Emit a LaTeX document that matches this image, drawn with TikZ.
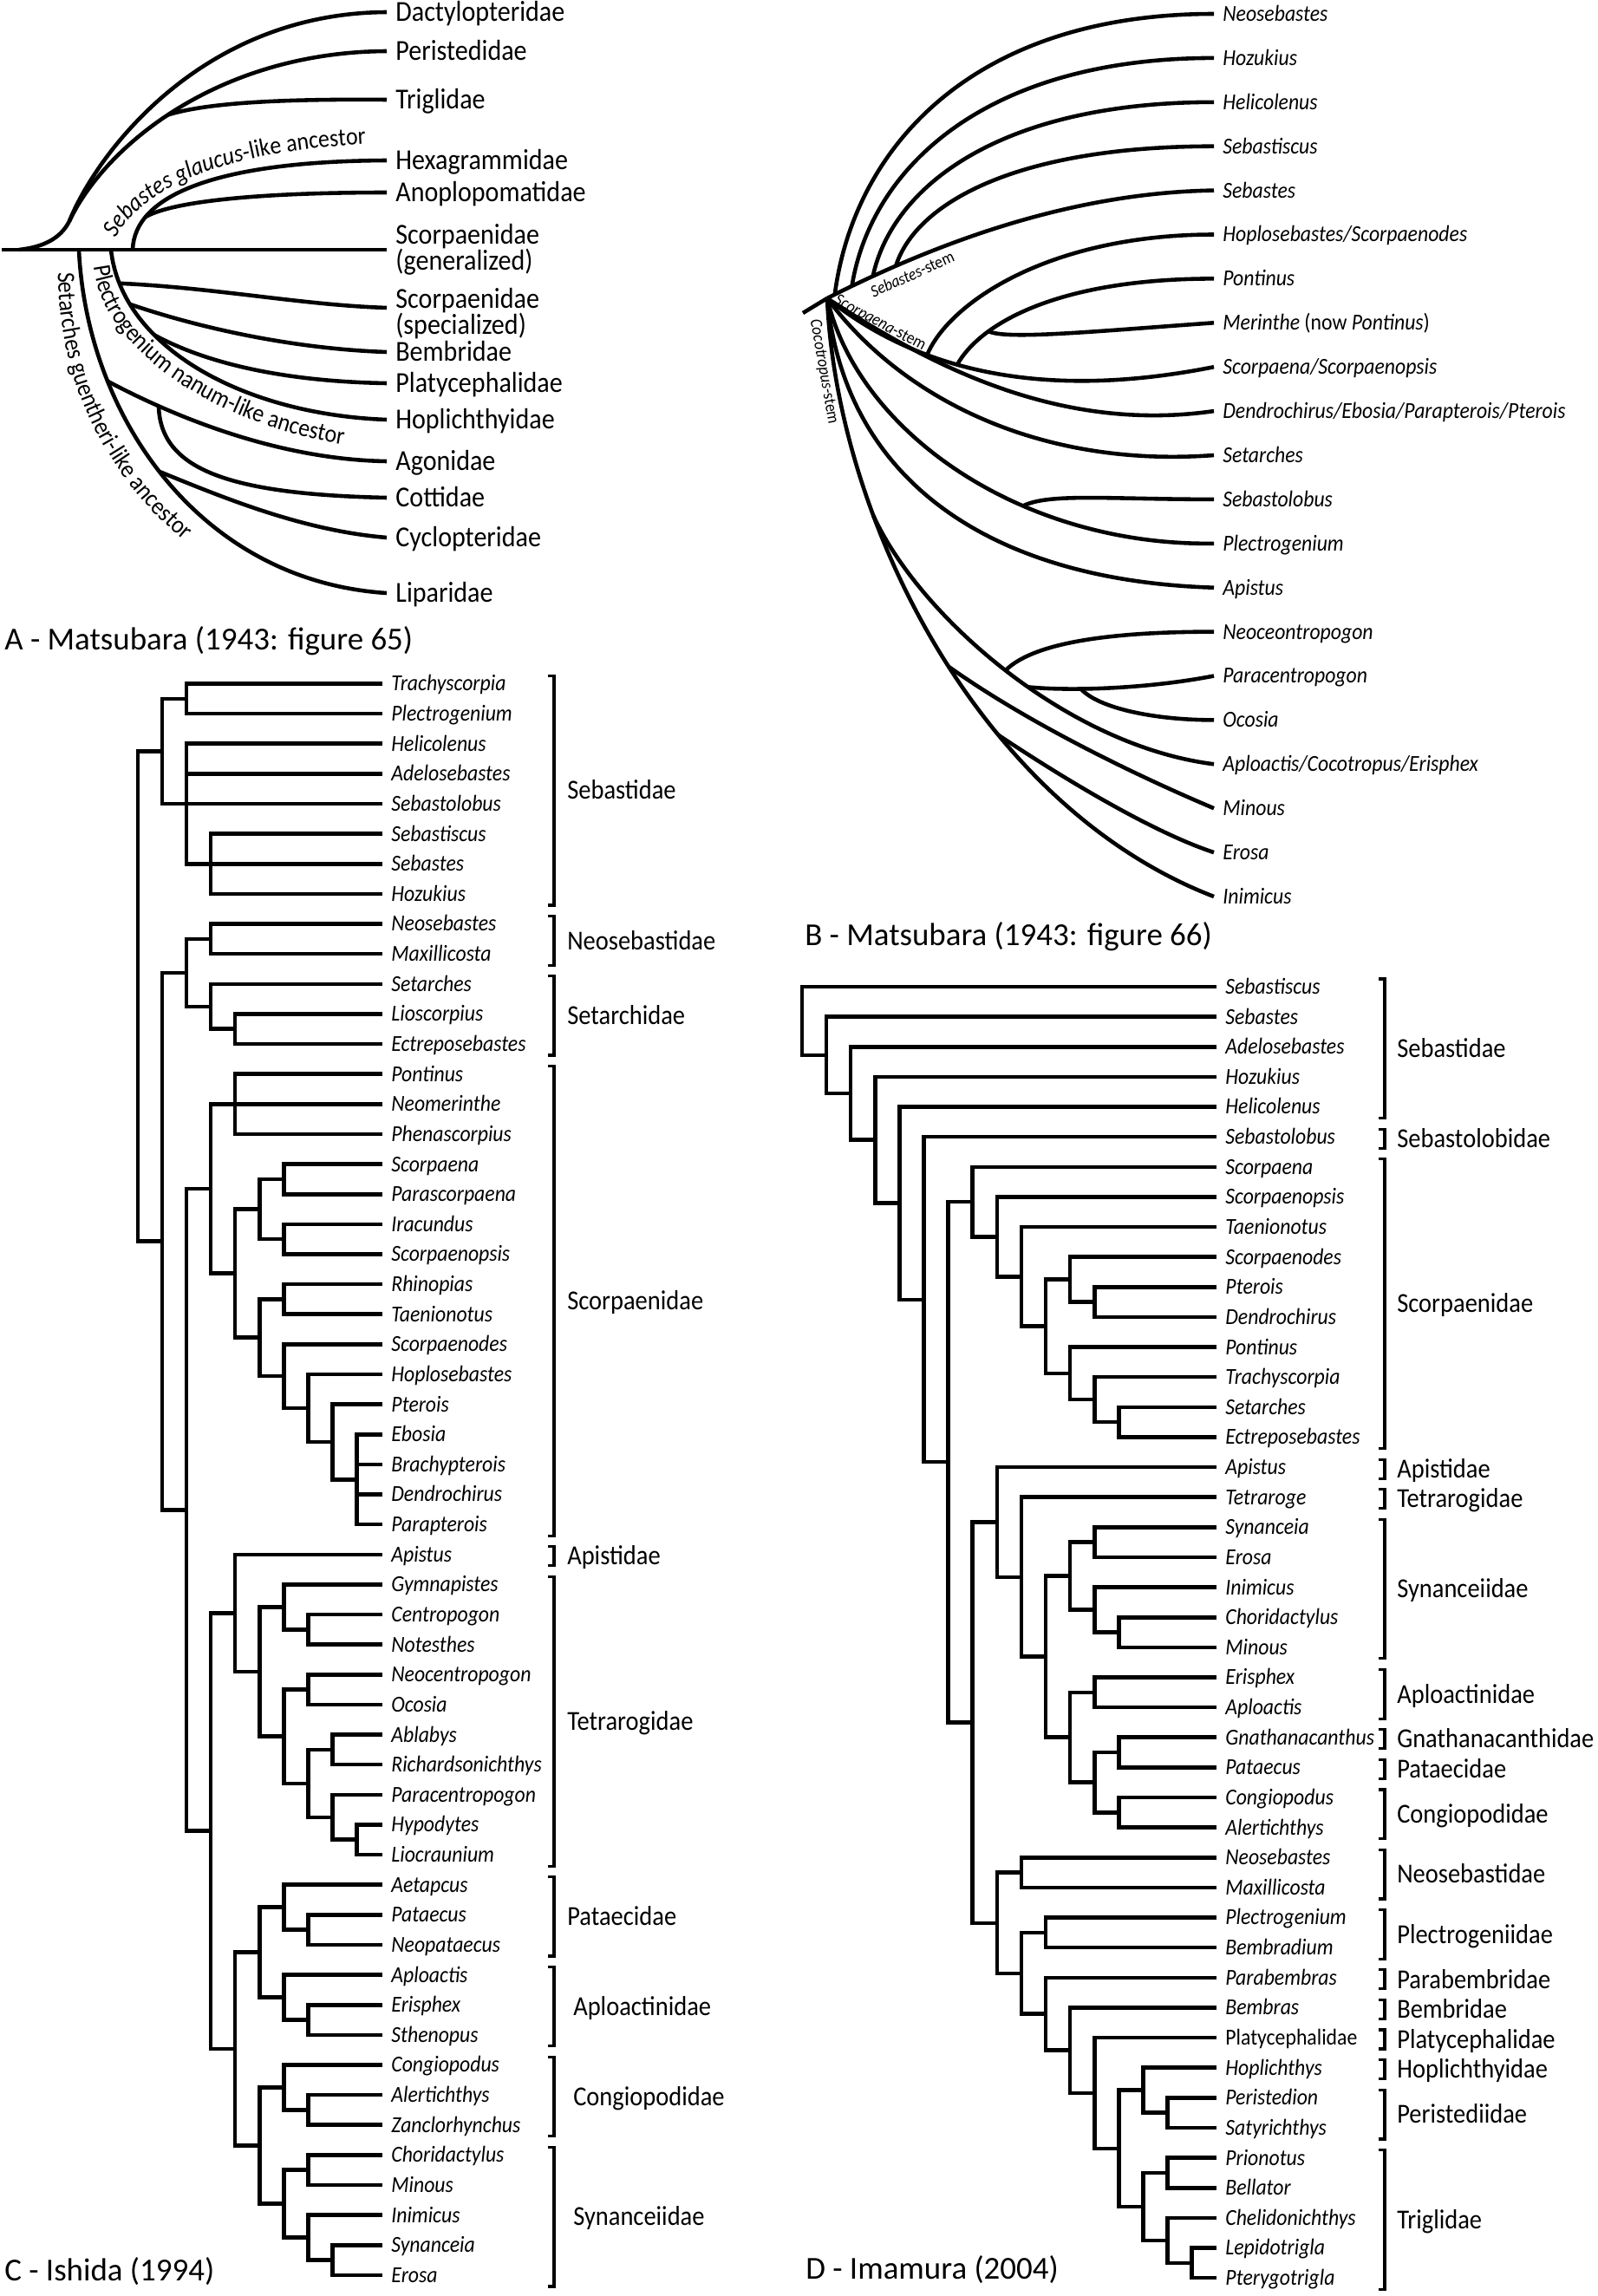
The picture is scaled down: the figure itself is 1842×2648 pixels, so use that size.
\documentclass[tikz,border=0pt]{standalone}
\usepackage{fontspec}
\setmainfont{Carlito}[FakeStretch=0.9]
\newfontfamily\plainfamily{Carlito}
\usetikzlibrary{decorations.text}
\newcommand{\taxonfont}{\fontsize{7.5}{9}\selectfont\itshape}
\newcommand{\famfont}{\fontsize{9}{10}\selectfont}
\newcommand{\groupfont}{\fontsize{9.5}{8.5}\selectfont}
\newcommand{\stemfont}{\fontsize{5.6}{7}\selectfont}
\newcommand{\ancfont}{\fontsize{8.2}{9}\selectfont}
\newcommand{\paneltitlefont}{\plainfamily\fontsize{10.5}{12}\selectfont}
\newcommand{\Cx}[1]{159+28.05*#1}
\newcommand{\Cy}[1]{788.5+34.63*#1}
\newcommand{\Dx}[1]{925+28.1*#1}
\newcommand{\Dy}[1]{1138+34.63*#1}
\newcommand{\By}[1]{16+50.9*#1}
\tikzset{
    bracket/.style={line width=0.9pt},
    taxon/.style={anchor=west, inner xsep=2.3pt, inner ysep=0pt, text height=4.8pt, text depth=0pt, font=\taxonfont},
    famlab/.style={anchor=west, inner sep=0pt, text height=5.8pt, text depth=0pt, font=\famfont},
    grouplab/.style={anchor=west, inner xsep=2.3pt, inner ysep=0pt, text height=6.1pt, text depth=0pt, font=\groupfont},
    grouplabtwo/.style={anchor=west, inner xsep=2.3pt, inner ysep=0pt, align=left, font=\groupfont},
    stemlab/.style={inner sep=0pt, font=\stemfont},
    paneltitle/.style={anchor=west, inner sep=0pt, text height=6.8pt, text depth=0pt, font=\paneltitlefont}
}
\newcommand{\famC}[5]{%
    \draw[bracket] (632,{\Cy{#1}-9}) -- (639,{\Cy{#1}-9}) -- (639,{\Cy{#2}+13}) -- (632,{\Cy{#2}+13});
    \node (#3) [famlab] at (#4,{(\Cy{#1}+\Cy{#2})/2+2}) {#5};}
\newcommand{\famD}[4]{%
    \draw[bracket] (1590,{\Dy{#1}-9}) -- (1597,{\Dy{#1}-9}) -- (1597,{\Dy{#2}+13}) -- (1590,{\Dy{#2}+13});
    \node (#3) [famlab] at (1609,{(\Dy{#1}+\Dy{#2})/2+2}) {#4};}
\begin{document}
\begin{tikzpicture}[x=0.01cm, y=-0.01cm, line width=1.3pt]
    \useasboundingbox (0,0) rectangle (1842,2648);

    \node (a0) [grouplab] at (446,14) {Dactylopteridae};
    \node (a1) [grouplab] at (446,59) {Peristedidae};
    \node (a2) [grouplab] at (446,115) {Triglidae};
    \node (a3) [grouplab] at (446,185) {Hexagrammidae};
    \node (a4) [grouplab] at (446,222) {Anoplopomatidae};
    \node (a5) [grouplabtwo] at (446,288) {Scorpaenidae\\(generalized)};
    \node (a6) [grouplabtwo] at (446,362) {Scorpaenidae\\(specialized)};
    \node (a7) [grouplab] at (446,406) {Bembridae};
    \node (a8) [grouplab] at (446,442) {Platycephalidae};
    \node (a9) [grouplab] at (446,484) {Hoplichthyidae};
    \node (a10) [grouplab] at (446,532) {Agonidae};
    \node (a11) [grouplab] at (446,574) {Cottidae};
    \node (a12) [grouplab] at (446,620) {Cyclopteridae};
    \node (a13) [grouplab] at (446,684) {Liparidae};

    \coordinate (aR) at (2,288);
    \coordinate (aD0) at (22,288);
    \coordinate (aD1) at (80,255);
    \coordinate (aS) at (91,288);
    \coordinate (aP) at (128,288);
    \coordinate (aG) at (153,288);

    \draw (aR) -- (a5.west);
    \draw (aD0) .. controls (50,285) and (70,275) .. (aD1) .. controls (110,180) and (230,15) .. (a0.west);
    \draw (aD1) .. controls (120,170) and (250,60) .. (a1.west) coordinate[pos=0.47] (aT);
    \draw (aT) .. controls (240,118) and (330,114) .. (a2.west);
    \draw (aG) .. controls (155,225) and (250,186) .. (a3.west) coordinate[pos=0.22] (aA);
    \draw (aA) .. controls (200,232) and (300,222) .. (a4.west);
    \draw (aP) .. controls (140,400) and (280,478) .. (a9.west) coordinate[pos=0.12] (aP1) coordinate[pos=0.2] (aP2) coordinate[pos=0.33] (aP3);
    \draw (aP1) .. controls (250,332) and (350,352) .. ([yshift=2pt]a6.west);
    \draw (aP2) .. controls (220,375) and (330,402) .. (a7.west);
    \draw (aP3) .. controls (240,420) and (330,440) .. (a8.west);
    \draw (aS) .. controls (100,480) and (230,670) .. (a13.west) coordinate[pos=0.27] (aS1) coordinate[pos=0.48] (aS2);
    \draw (aS1) .. controls (200,480) and (320,530) .. (a10.west) coordinate[pos=0.23] (aC);
    \draw (aC) .. controls (185,540) and (260,570) .. (a11.west);
    \draw (aS2) .. controls (260,575) and (350,612) .. (a12.west);

    \path[decorate, decoration={text along path, text={|\ancfont\itshape|Sebastes glaucus|\ancfont|-like ancestor}}] (134,275) .. controls (168,210) and (272,174) .. (425,166);
    \path[decorate, decoration={text along path, text={|\ancfont|Plectrogenium nanum-like ancestor}}] (108,307) .. controls (119,410) and (270,505) .. (440,518);
    \path[decorate, decoration={text along path, text={|\ancfont|Setarches guentheri-like ancestor}}] (67,314) .. controls (66,485) and (180,680) .. (440,720);

    \node (tA) [paneltitle] at (3,738) {A - Matsubara (1943: figure 65)};

    \node (b0) [taxon] at (1400,\By{0}) {Neosebastes};
    \node (b1) [taxon] at (1400,\By{1}) {Hozukius};
    \node (b2) [taxon] at (1400,\By{2}) {Helicolenus};
    \node (b3) [taxon] at (1400,\By{3}) {Sebastiscus};
    \node (b4) [taxon] at (1400,\By{4}) {Sebastes};
    \node (b5) [taxon] at (1400,\By{5}) {Hoplosebastes/Scorpaenodes};
    \node (b6) [taxon] at (1400,\By{6}) {Pontinus};
    \node (b7) [taxon] at (1400,\By{7}) {Merinthe {\upshape(now} Pontinus{\upshape)}};
    \node (b8) [taxon] at (1400,\By{8}) {Scorpaena/Scorpaenopsis};
    \node (b9) [taxon] at (1400,\By{9}) {Dendrochirus/Ebosia/Parapterois/Pterois};
    \node (b10) [taxon] at (1400,\By{10}) {Setarches};
    \node (b11) [taxon] at (1400,\By{11}) {Sebastolobus};
    \node (b12) [taxon] at (1400,\By{12}) {Plectrogenium};
    \node (b13) [taxon] at (1400,\By{13}) {Apistus};
    \node (b14) [taxon] at (1400,\By{14}) {Neoceontropogon};
    \node (b15) [taxon] at (1400,\By{15}) {Paracentropogon};
    \node (b16) [taxon] at (1400,\By{16}) {Ocosia};
    \node (b17) [taxon] at (1400,\By{17}) {Aploactis/Cocotropus/Erisphex};
    \node (b18) [taxon] at (1400,\By{18}) {Minous};
    \node (b19) [taxon] at (1400,\By{19}) {Erosa};
    \node (b20) [taxon] at (1400,\By{20}) {Inimicus};

    \coordinate (bR0) at (926,361);
    \coordinate (bR) at (954,344);
    \draw (bR0) -- (bR);
    \draw (bR) .. controls (1100,270) and (1250,222) .. (b4.west) coordinate[pos=0.02] (bk0) coordinate[pos=0.065] (bk1) coordinate[pos=0.12] (bk2) coordinate[pos=0.18] (bk3);
    \draw (bk0) .. controls +(22,-168) and +(-280,0) .. (b0.west);
    \draw (bk1) .. controls +(22,-136) and +(-264,0) .. (b1.west);
    \draw (bk2) .. controls +(22,-102) and +(-249,0) .. (b2.west);
    \draw (bk3) .. controls +(22,-70) and +(-233,0) .. (b3.west);
    \draw (bR) .. controls (1080,445) and (1240,455) .. (b8.west) coordinate[pos=0.285] (bk5) coordinate[pos=0.365] (bk6);
    \draw (bk5) .. controls +(25,-60) and +(-190,0) .. (b5.west);
    \draw (bk6) .. controls +(25,-45) and +(-185,0) .. (b6.west) coordinate[pos=0.28] (bk7);
    \draw (bk7) .. controls +(20,10) and +(-140,10) .. (b7.west);
    \draw (bR) .. controls (1070,420) and (1220,500) .. (b9.west);
    \draw (bR) .. controls (1040,460) and (1200,540) .. (b10.west);
    \draw (bR) .. controls (990,500) and (1180,630) .. (b12.west) coordinate[pos=0.64] (bk11);
    \draw (bk11) .. controls +(30,-15) and +(-120,0) .. (b11.west);
    \draw (bR) .. controls (975,560) and (1150,670) .. (b13.west);
    \draw (bR) .. controls (965,600) and (1130,930) .. (b20.west) coordinate[pos=0.31] (bk17) coordinate[pos=0.53] (bk18) coordinate[pos=0.64] (bk19);
    \draw (bk17) .. controls (1060,710) and (1230,860) .. (b17.west) coordinate[pos=0.5] (bk14) coordinate[pos=0.56] (bk15);
    \draw (bk14) .. controls +(25,-25) and +(-150,0) .. (b14.west);
    \draw (bk15) .. controls (1230,797) and (1320,795) .. (b15.west) coordinate[pos=0.35] (bk16);
    \draw (bk16) .. controls +(20,22) and +(-70,0) .. (b16.west);
    \draw (bk18) .. controls (1180,830) and (1300,890) .. (b18.west);
    \draw (bk19) .. controls (1230,900) and (1330,960) .. (b19.west);

    \node (lsb) [stemlab, rotate=24] at (1052,316) {\textit{Sebastes}-stem};
    \node (lsc) [stemlab, rotate=-28] at (1015,373) {\textit{Scorpaena}-stem};
    \node (lco) [stemlab, rotate=-80] at (950,429) {\textit{Cocotropus}-stem};

    \node (tB) [paneltitle] at (926,1079) {B - Matsubara (1943: figure 66)};

    \node (c0) [taxon] at (441,\Cy{0}) {Trachyscorpia};
    \node (c1) [taxon] at (441,\Cy{1}) {Plectrogenium};
    \node (c2) [taxon] at (441,\Cy{2}) {Helicolenus};
    \node (c3) [taxon] at (441,\Cy{3}) {Adelosebastes};
    \node (c4) [taxon] at (441,\Cy{4}) {Sebastolobus};
    \node (c5) [taxon] at (441,\Cy{5}) {Sebastiscus};
    \node (c6) [taxon] at (441,\Cy{6}) {Sebastes};
    \node (c7) [taxon] at (441,\Cy{7}) {Hozukius};
    \node (c8) [taxon] at (441,\Cy{8}) {Neosebastes};
    \node (c9) [taxon] at (441,\Cy{9}) {Maxillicosta};
    \node (c10) [taxon] at (441,\Cy{10}) {Setarches};
    \node (c11) [taxon] at (441,\Cy{11}) {Lioscorpius};
    \node (c12) [taxon] at (441,\Cy{12}) {Ectreposebastes};
    \node (c13) [taxon] at (441,\Cy{13}) {Pontinus};
    \node (c14) [taxon] at (441,\Cy{14}) {Neomerinthe};
    \node (c15) [taxon] at (441,\Cy{15}) {Phenascorpius};
    \node (c16) [taxon] at (441,\Cy{16}) {Scorpaena};
    \node (c17) [taxon] at (441,\Cy{17}) {Parascorpaena};
    \node (c18) [taxon] at (441,\Cy{18}) {Iracundus};
    \node (c19) [taxon] at (441,\Cy{19}) {Scorpaenopsis};
    \node (c20) [taxon] at (441,\Cy{20}) {Rhinopias};
    \node (c21) [taxon] at (441,\Cy{21}) {Taenionotus};
    \node (c22) [taxon] at (441,\Cy{22}) {Scorpaenodes};
    \node (c23) [taxon] at (441,\Cy{23}) {Hoplosebastes};
    \node (c24) [taxon] at (441,\Cy{24}) {Pterois};
    \node (c25) [taxon] at (441,\Cy{25}) {Ebosia};
    \node (c26) [taxon] at (441,\Cy{26}) {Brachypterois};
    \node (c27) [taxon] at (441,\Cy{27}) {Dendrochirus};
    \node (c28) [taxon] at (441,\Cy{28}) {Parapterois};
    \node (c29) [taxon] at (441,\Cy{29}) {Apistus};
    \node (c30) [taxon] at (441,\Cy{30}) {Gymnapistes};
    \node (c31) [taxon] at (441,\Cy{31}) {Centropogon};
    \node (c32) [taxon] at (441,\Cy{32}) {Notesthes};
    \node (c33) [taxon] at (441,\Cy{33}) {Neocentropogon};
    \node (c34) [taxon] at (441,\Cy{34}) {Ocosia};
    \node (c35) [taxon] at (441,\Cy{35}) {Ablabys};
    \node (c36) [taxon] at (441,\Cy{36}) {Richardsonichthys};
    \node (c37) [taxon] at (441,\Cy{37}) {Paracentropogon};
    \node (c38) [taxon] at (441,\Cy{38}) {Hypodytes};
    \node (c39) [taxon] at (441,\Cy{39}) {Liocraunium};
    \node (c40) [taxon] at (441,\Cy{40}) {Aetapcus};
    \node (c41) [taxon] at (441,\Cy{41}) {Pataecus};
    \node (c42) [taxon] at (441,\Cy{42}) {Neopataecus};
    \node (c43) [taxon] at (441,\Cy{43}) {Aploactis};
    \node (c44) [taxon] at (441,\Cy{44}) {Erisphex};
    \node (c45) [taxon] at (441,\Cy{45}) {Sthenopus};
    \node (c46) [taxon] at (441,\Cy{46}) {Congiopodus};
    \node (c47) [taxon] at (441,\Cy{47}) {Alertichthys};
    \node (c48) [taxon] at (441,\Cy{48}) {Zanclorhynchus};
    \node (c49) [taxon] at (441,\Cy{49}) {Choridactylus};
    \node (c50) [taxon] at (441,\Cy{50}) {Minous};
    \node (c51) [taxon] at (441,\Cy{51}) {Inimicus};
    \node (c52) [taxon] at (441,\Cy{52}) {Synanceia};
    \node (c53) [taxon] at (441,\Cy{53}) {Erosa};

    \coordinate (k1) at (\Cx{2},\Cy{0.5});
    \coordinate (k2) at (\Cx{3},\Cy{6});
    \coordinate (k3) at (\Cx{2},\Cy{4});
    \coordinate (k4) at (\Cx{1},\Cy{2.25});
    \coordinate (k5) at (\Cx{3},\Cy{8.5});
    \coordinate (k6) at (\Cx{4},\Cy{11.5});
    \coordinate (k7) at (\Cx{3},\Cy{10.75});
    \coordinate (k8) at (\Cx{2},\Cy{9.625});
    \coordinate (k9) at (\Cx{4},\Cy{14});
    \coordinate (k10) at (\Cx{6},\Cy{16.5});
    \coordinate (k11) at (\Cx{6},\Cy{18.5});
    \coordinate (k12) at (\Cx{5},\Cy{17.5});
    \coordinate (k13) at (\Cx{6},\Cy{20.5});
    \coordinate (k14) at (\Cx{9},\Cy{26.5});
    \coordinate (k15) at (\Cx{8},\Cy{25.25});
    \coordinate (k16) at (\Cx{7},\Cy{24.125});
    \coordinate (k17) at (\Cx{6},\Cy{23.0625});
    \coordinate (k18) at (\Cx{5},\Cy{21.78});
    \coordinate (k19) at (\Cx{4},\Cy{19.64});
    \coordinate (k20) at (\Cx{3},\Cy{16.82});
    \coordinate (k21) at (\Cx{7},\Cy{31.5});
    \coordinate (k22) at (\Cx{6},\Cy{30.75});
    \coordinate (k23) at (\Cx{7},\Cy{33.5});
    \coordinate (k24) at (\Cx{8},\Cy{35.5});
    \coordinate (k25) at (\Cx{9},\Cy{38.5});
    \coordinate (k26) at (\Cx{8},\Cy{37.75});
    \coordinate (k27) at (\Cx{7},\Cy{36.625});
    \coordinate (k28) at (\Cx{6},\Cy{35.06});
    \coordinate (k29) at (\Cx{5},\Cy{32.91});
    \coordinate (k30) at (\Cx{4},\Cy{30.95});
    \coordinate (k31) at (\Cx{7},\Cy{41.5});
    \coordinate (k32) at (\Cx{6},\Cy{40.75});
    \coordinate (k33) at (\Cx{7},\Cy{44.5});
    \coordinate (k34) at (\Cx{6},\Cy{43.75});
    \coordinate (k35) at (\Cx{5},\Cy{42.25});
    \coordinate (k36) at (\Cx{7},\Cy{47.5});
    \coordinate (k37) at (\Cx{6},\Cy{46.75});
    \coordinate (k38) at (\Cx{7},\Cy{49.5});
    \coordinate (k39) at (\Cx{8},\Cy{52.5});
    \coordinate (k40) at (\Cx{7},\Cy{51.75});
    \coordinate (k41) at (\Cx{6},\Cy{50.625});
    \coordinate (k42) at (\Cx{5},\Cy{48.69});
    \coordinate (k43) at (\Cx{4},\Cy{45.47});
    \coordinate (k44) at (\Cx{3},\Cy{38.21});
    \coordinate (k45) at (\Cx{2},\Cy{27.52});
    \coordinate (k46) at (\Cx{1},\Cy{18.57});
    \coordinate (k47) at (\Cx{0},\Cy{10.41});

    \draw (c0.west) -| (k1) |- (c1.west);
    \draw (c5.west) -| (k2) |- (c7.west);
    \draw (c2.west) -| (k3) |- (c6.west);
    \draw (c3.west) -- (c3.west -| k3);
    \draw (k1) -| (k4) |- (c4.west);
    \draw (c8.west) -| (k5) |- (c9.west);
    \draw (c11.west) -| (k6) |- (c12.west);
    \draw (c10.west) -| (k7) |- (k6);
    \draw (k5) -| (k8) |- (k7);
    \draw (c13.west) -| (k9) |- (c15.west);
    \draw (c16.west) -| (k10) |- (c17.west);
    \draw (c18.west) -| (k11) |- (c19.west);
    \draw (k10) -| (k12) |- (k11);
    \draw (c20.west) -| (k13) |- (c21.west);
    \draw (c25.west) -| (k14) |- (c28.west);
    \draw (c26.west) -- (c26.west -| k14);
    \draw (c27.west) -- (c27.west -| k14);
    \draw (c24.west) -| (k15) |- (k14);
    \draw (c23.west) -| (k16) |- (k15);
    \draw (c22.west) -| (k17) |- (k16);
    \draw (k13) -| (k18) |- (k17);
    \draw (k12) -| (k19) |- (k18);
    \draw (c14.west) -| (k20) |- (k19);
    \draw (c31.west) -| (k21) |- (c32.west);
    \draw (c30.west) -| (k22) |- (k21);
    \draw (c33.west) -| (k23) |- (c34.west);
    \draw (c35.west) -| (k24) |- (c36.west);
    \draw (c38.west) -| (k25) |- (c39.west);
    \draw (c37.west) -| (k26) |- (k25);
    \draw (k24) -| (k27) |- (k26);
    \draw (k23) -| (k28) |- (k27);
    \draw (k22) -| (k29) |- (k28);
    \draw (c29.west) -| (k30) |- (k29);
    \draw (c41.west) -| (k31) |- (c42.west);
    \draw (c40.west) -| (k32) |- (k31);
    \draw (c44.west) -| (k33) |- (c45.west);
    \draw (c43.west) -| (k34) |- (k33);
    \draw (k32) -| (k35) |- (k34);
    \draw (c47.west) -| (k36) |- (c48.west);
    \draw (c46.west) -| (k37) |- (k36);
    \draw (c49.west) -| (k38) |- (c50.west);
    \draw (c52.west) -| (k39) |- (c53.west);
    \draw (c51.west) -| (k40) |- (k39);
    \draw (k38) -| (k41) |- (k40);
    \draw (k37) -| (k42) |- (k41);
    \draw (k35) -| (k43) |- (k42);
    \draw (k30) -| (k44) |- (k43);
    \draw (k20) -| (k45) |- (k44);
    \draw (k8) -| (k46) |- (k45);
    \draw (k4) -| (k47) |- (k46);

    \famC{0}{7}{fc1}{652}{Sebastidae}
    \famC{8}{9}{fc2}{652}{Neosebastidae}
    \famC{10}{12}{fc3}{652}{Setarchidae}
    \famC{13}{28}{fc4}{652}{Scorpaenidae}
    \famC{29}{29}{fc5}{652}{Apistidae}
    \famC{30}{39}{fc6}{652}{Tetrarogidae}
    \famC{40}{42}{fc7}{652}{Pataecidae}
    \famC{43}{45}{fc8}{659}{Aploactinidae}
    \famC{46}{48}{fc9}{659}{Congiopodidae}
    \famC{49}{53}{fc10}{659}{Synanceiidae}

    \node (tC) [paneltitle] at (3,2619) {C - Ishida (1994)};

    \node (d0) [taxon] at (1403,\Dy{0}) {Sebastiscus};
    \node (d1) [taxon] at (1403,\Dy{1}) {Sebastes};
    \node (d2) [taxon] at (1403,\Dy{2}) {Adelosebastes};
    \node (d3) [taxon] at (1403,\Dy{3}) {Hozukius};
    \node (d4) [taxon] at (1403,\Dy{4}) {Helicolenus};
    \node (d5) [taxon] at (1403,\Dy{5}) {Sebastolobus};
    \node (d6) [taxon] at (1403,\Dy{6}) {Scorpaena};
    \node (d7) [taxon] at (1403,\Dy{7}) {Scorpaenopsis};
    \node (d8) [taxon] at (1403,\Dy{8}) {Taenionotus};
    \node (d9) [taxon] at (1403,\Dy{9}) {Scorpaenodes};
    \node (d10) [taxon] at (1403,\Dy{10}) {Pterois};
    \node (d11) [taxon] at (1403,\Dy{11}) {Dendrochirus};
    \node (d12) [taxon] at (1403,\Dy{12}) {Pontinus};
    \node (d13) [taxon] at (1403,\Dy{13}) {Trachyscorpia};
    \node (d14) [taxon] at (1403,\Dy{14}) {Setarches};
    \node (d15) [taxon] at (1403,\Dy{15}) {Ectreposebastes};
    \node (d16) [taxon] at (1403,\Dy{16}) {Apistus};
    \node (d17) [taxon] at (1403,\Dy{17}) {Tetraroge};
    \node (d18) [taxon] at (1403,\Dy{18}) {Synanceia};
    \node (d19) [taxon] at (1403,\Dy{19}) {Erosa};
    \node (d20) [taxon] at (1403,\Dy{20}) {Inimicus};
    \node (d21) [taxon] at (1403,\Dy{21}) {Choridactylus};
    \node (d22) [taxon] at (1403,\Dy{22}) {Minous};
    \node (d23) [taxon] at (1403,\Dy{23}) {Erisphex};
    \node (d24) [taxon] at (1403,\Dy{24}) {Aploactis};
    \node (d25) [taxon] at (1403,\Dy{25}) {Gnathanacanthus};
    \node (d26) [taxon] at (1403,\Dy{26}) {Pataecus};
    \node (d27) [taxon] at (1403,\Dy{27}) {Congiopodus};
    \node (d28) [taxon] at (1403,\Dy{28}) {Alertichthys};
    \node (d29) [taxon] at (1403,\Dy{29}) {Neosebastes};
    \node (d30) [taxon] at (1403,\Dy{30}) {Maxillicosta};
    \node (d31) [taxon] at (1403,\Dy{31}) {Plectrogenium};
    \node (d32) [taxon] at (1403,\Dy{32}) {Bembradium};
    \node (d33) [taxon] at (1403,\Dy{33}) {Parabembras};
    \node (d34) [taxon] at (1403,\Dy{34}) {Bembras};
    \node (d35) [taxon] at (1403,\Dy{35}) {\upshape Platycephalidae};
    \node (d36) [taxon] at (1403,\Dy{36}) {Hoplichthys};
    \node (d37) [taxon] at (1403,\Dy{37}) {Peristedion};
    \node (d38) [taxon] at (1403,\Dy{38}) {Satyrichthys};
    \node (d39) [taxon] at (1403,\Dy{39}) {Prionotus};
    \node (d40) [taxon] at (1403,\Dy{40}) {Bellator};
    \node (d41) [taxon] at (1403,\Dy{41}) {Chelidonichthys};
    \node (d42) [taxon] at (1403,\Dy{42}) {Lepidotrigla};
    \node (d43) [taxon] at (1403,\Dy{43}) {Pterygotrigla};

    \coordinate (m1) at (\Dx{12},\Dy{10.5});
    \coordinate (m2) at (\Dx{11},\Dy{9.75});
    \coordinate (m3) at (\Dx{13},\Dy{14.5});
    \coordinate (m4) at (\Dx{12},\Dy{13.75});
    \coordinate (m5) at (\Dx{11},\Dy{12.875});
    \coordinate (m6) at (\Dx{10},\Dy{11.31});
    \coordinate (m7) at (\Dx{9},\Dy{9.66});
    \coordinate (m8) at (\Dx{8},\Dy{8.33});
    \coordinate (m9) at (\Dx{7},\Dy{7.16});
    \coordinate (m10) at (\Dx{12},\Dy{18.5});
    \coordinate (m11) at (\Dx{13},\Dy{21.5});
    \coordinate (m12) at (\Dx{12},\Dy{20.75});
    \coordinate (m13) at (\Dx{11},\Dy{19.625});
    \coordinate (m14) at (\Dx{12},\Dy{23.5});
    \coordinate (m15) at (\Dx{13},\Dy{25.5});
    \coordinate (m16) at (\Dx{13},\Dy{27.5});
    \coordinate (m17) at (\Dx{12},\Dy{26.5});
    \coordinate (m18) at (\Dx{11},\Dy{25});
    \coordinate (m19) at (\Dx{10},\Dy{22.31});
    \coordinate (m20) at (\Dx{9},\Dy{19.66});
    \coordinate (m21) at (\Dx{8},\Dy{17.83});
    \coordinate (m22) at (\Dx{9},\Dy{29.5});
    \coordinate (m23) at (\Dx{10},\Dy{31.5});
    \coordinate (m24) at (\Dx{15},\Dy{37.5});
    \coordinate (m25) at (\Dx{14},\Dy{36.75});
    \coordinate (m26) at (\Dx{15},\Dy{39.5});
    \coordinate (m27) at (\Dx{16},\Dy{42.5});
    \coordinate (m28) at (\Dx{15},\Dy{41.75});
    \coordinate (m29) at (\Dx{14},\Dy{40.625});
    \coordinate (m30) at (\Dx{13},\Dy{38.69});
    \coordinate (m31) at (\Dx{12},\Dy{36.84});
    \coordinate (m32) at (\Dx{11},\Dy{35.42});
    \coordinate (m33) at (\Dx{10},\Dy{34.21});
    \coordinate (m34) at (\Dx{9},\Dy{32.86});
    \coordinate (m35) at (\Dx{8},\Dy{31.18});
    \coordinate (m36) at (\Dx{7},\Dy{24.5});
    \coordinate (m37) at (\Dx{6},\Dy{15.83});
    \coordinate (m38) at (\Dx{5},\Dy{10.42});
    \coordinate (m39) at (\Dx{4},\Dy{7.21});
    \coordinate (m40) at (\Dx{3},\Dy{5.1});
    \coordinate (m41) at (\Dx{2},\Dy{3.55});
    \coordinate (m42) at (\Dx{1},\Dy{2.28});
    \coordinate (m43) at (\Dx{0},\Dy{1.14});

    \draw (d10.west) -| (m1) |- (d11.west);
    \draw (d9.west) -| (m2) |- (m1);
    \draw (d14.west) -| (m3) |- (d15.west);
    \draw (d13.west) -| (m4) |- (m3);
    \draw (d12.west) -| (m5) |- (m4);
    \draw (m2) -| (m6) |- (m5);
    \draw (d8.west) -| (m7) |- (m6);
    \draw (d7.west) -| (m8) |- (m7);
    \draw (d6.west) -| (m9) |- (m8);
    \draw (d18.west) -| (m10) |- (d19.west);
    \draw (d21.west) -| (m11) |- (d22.west);
    \draw (d20.west) -| (m12) |- (m11);
    \draw (m10) -| (m13) |- (m12);
    \draw (d23.west) -| (m14) |- (d24.west);
    \draw (d25.west) -| (m15) |- (d26.west);
    \draw (d27.west) -| (m16) |- (d28.west);
    \draw (m15) -| (m17) |- (m16);
    \draw (m14) -| (m18) |- (m17);
    \draw (m13) -| (m19) |- (m18);
    \draw (d17.west) -| (m20) |- (m19);
    \draw (d16.west) -| (m21) |- (m20);
    \draw (d29.west) -| (m22) |- (d30.west);
    \draw (d31.west) -| (m23) |- (d32.west);
    \draw (d37.west) -| (m24) |- (d38.west);
    \draw (d36.west) -| (m25) |- (m24);
    \draw (d39.west) -| (m26) |- (d40.west);
    \draw (d42.west) -| (m27) |- (d43.west);
    \draw (d41.west) -| (m28) |- (m27);
    \draw (m26) -| (m29) |- (m28);
    \draw (m25) -| (m30) |- (m29);
    \draw (d35.west) -| (m31) |- (m30);
    \draw (d34.west) -| (m32) |- (m31);
    \draw (d33.west) -| (m33) |- (m32);
    \draw (m23) -| (m34) |- (m33);
    \draw (m22) -| (m35) |- (m34);
    \draw (m21) -| (m36) |- (m35);
    \draw (m9) -| (m37) |- (m36);
    \draw (d5.west) -| (m38) |- (m37);
    \draw (d4.west) -| (m39) |- (m38);
    \draw (d3.west) -| (m40) |- (m39);
    \draw (d2.west) -| (m41) |- (m40);
    \draw (d1.west) -| (m42) |- (m41);
    \draw (d0.west) -| (m43) |- (m42);

    \famD{0}{4}{fd1}{Sebastidae}
    \famD{5}{5}{fd2}{Sebastolobidae}
    \famD{6}{15}{fd3}{Scorpaenidae}
    \famD{16}{16}{fd4}{Apistidae}
    \famD{17}{17}{fd5}{Tetrarogidae}
    \famD{18}{22}{fd6}{Synanceiidae}
    \famD{23}{24}{fd7}{Aploactinidae}
    \famD{25}{25}{fd8}{Gnathanacanthidae}
    \famD{26}{26}{fd9}{Pataecidae}
    \famD{27}{28}{fd10}{Congiopodidae}
    \famD{29}{30}{fd11}{Neosebastidae}
    \famD{31}{32}{fd12}{Plectrogeniidae}
    \famD{33}{33}{fd13}{Parabembridae}
    \famD{34}{34}{fd14}{Bembridae}
    \famD{35}{35}{fd15}{Platycephalidae}
    \famD{36}{36}{fd16}{Hoplichthyidae}
    \famD{37}{38}{fd17}{Peristediidae}
    \famD{39}{43}{fd18}{Triglidae}

    \node (tD) [paneltitle] at (927,2617) {D - Imamura (2004)};
\end{tikzpicture}
\end{document}
